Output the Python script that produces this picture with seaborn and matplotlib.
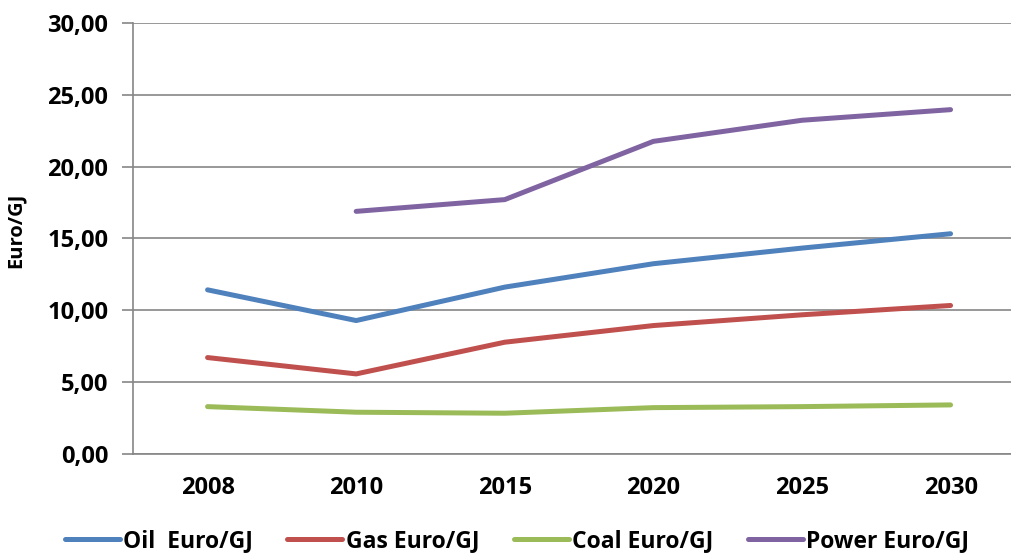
import numpy as np
import pandas as pd
import matplotlib
matplotlib.use("Agg")
import matplotlib.pyplot as plt
import seaborn as sns
from matplotlib.ticker import FuncFormatter, FixedLocator

# Fuel price projections, Euro per GJ
years = ["2008", "2010", "2015", "2020", "2025", "2030"]
oil = [11.42, 9.28, 11.61, 13.24, 14.33, 15.33]
gas = [6.70, 5.56, 7.77, 8.93, 9.68, 10.33]
coal = [3.28, 2.89, 2.82, 3.21, 3.28, 3.40]
power = [np.nan, 16.89, 17.71, 21.77, 23.24, 23.98]

series_names = ["Oil  Euro/GJ", "Gas Euro/GJ", "Coal Euro/GJ", "Power Euro/GJ"]
series_values = [oil, gas, coal, power]
colors = ["#4F81BD", "#C0504D", "#9BBB59", "#8064A2"]

rows = []
for name, vals in zip(series_names, series_values):
    for i, v in enumerate(vals):
        rows.append({"pos": i, "series": name, "value": v})
df = pd.DataFrame(rows).dropna()

sns.set_theme(style="white")
plt.rcParams["font.family"] = ["Open Sans", "DejaVu Sans"]
plt.rcParams["font.weight"] = "bold"
plt.rcParams["text.color"] = "black"
plt.rcParams["xtick.color"] = "black"
plt.rcParams["ytick.color"] = "black"
plt.rcParams["axes.labelcolor"] = "black"

fig = plt.figure(figsize=(10.12, 5.53), dpi=100)
ax = fig.add_axes([0.1317, 0.1796, 0.881, 0.7783])

sns.lineplot(data=df, x="pos", y="value", hue="series", hue_order=series_names,
             palette=colors, linewidth=3.6, ax=ax, legend=False,
             solid_capstyle="round", sort=True)

grid_color = "#868686"
ax.set_xlim(-0.5, len(years) - 0.5)
ax.set_ylim(0, 30)
ax.set_yticks(np.arange(0, 31, 5))
ax.yaxis.set_major_formatter(FuncFormatter(lambda v, _: f"{v:.2f}".replace(".", ",")))
ax.grid(axis="y", color=grid_color, linewidth=1.2)
ax.set_axisbelow(True)

ax.set_xticks(range(len(years)))
ax.set_xticklabels(years)
ax.xaxis.set_minor_locator(FixedLocator(np.arange(-0.5, len(years), 1.0)))
ax.tick_params(axis="x", which="major", length=0, pad=16, labelsize=17, labelcolor="black")
ax.tick_params(axis="x", which="minor", length=8, width=1.2, color=grid_color, direction="out")
ax.tick_params(axis="y", which="major", length=8, width=1.2, color=grid_color,
               direction="out", pad=10, labelsize=17, left=True, labelcolor="black")
for lbl in ax.get_xticklabels() + ax.get_yticklabels():
    lbl.set_fontweight("bold")

for side in ["top", "right"]:
    ax.spines[side].set_visible(False)
for side in ["left", "bottom"]:
    ax.spines[side].set_color(grid_color)
    ax.spines[side].set_linewidth(1.2)

ax.set_xlabel("")
ax.set_ylabel("Euro/GJ", fontsize=14.5, fontweight="bold", color="black")
ax.yaxis.set_label_coords(-0.121, 0.52)

handles = [plt.Line2D([0], [0], color=c, linewidth=3.6, solid_capstyle="round") for c in colors]
leg = fig.legend(handles, series_names, loc="center", bbox_to_anchor=(517 / 1012, 1 - 541 / 553),
                 ncol=4, frameon=False, fontsize=16.5, handlelength=2.4, handletextpad=0.15,
                 columnspacing=1.5, borderpad=0, borderaxespad=0)
for t in leg.get_texts():
    t.set_fontweight("bold")
    t.set_color("black")

fig.savefig("out.png", dpi=100)
